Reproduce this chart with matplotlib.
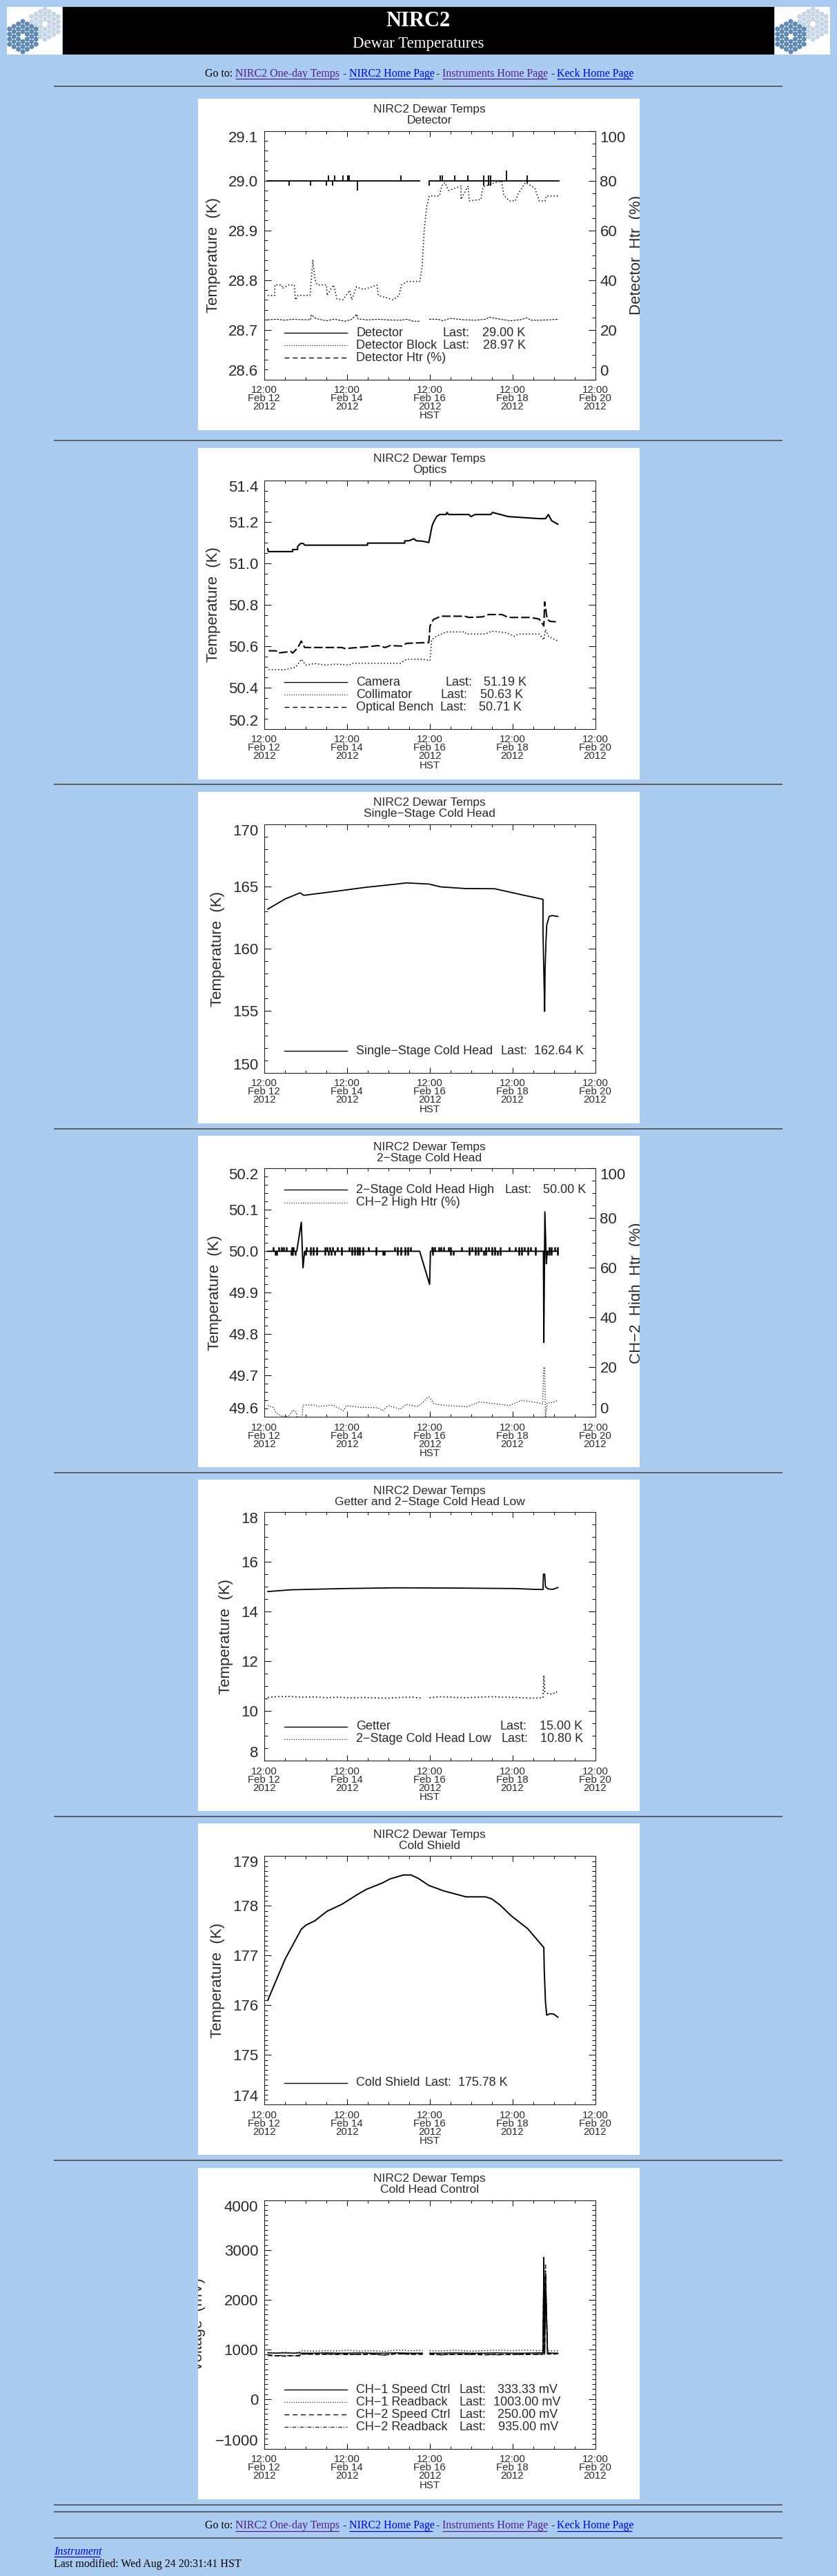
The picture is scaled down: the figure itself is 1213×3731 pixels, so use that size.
import numpy as np
import matplotlib
matplotlib.use('Agg')
import matplotlib.pyplot as plt
from matplotlib.patches import Rectangle, RegularPolygon
from matplotlib.ticker import MultipleLocator

W, H = 1213, 3731
BG = '#aaccf0'
INK = '#2a2a2a'
SANS = 'Liberation Sans'
SERIF = 'Liberation Serif'
DOT = (0, (1, 2))
DASH = (0, (5, 3.5))
DASHDOT = (0, (5, 2, 1, 2))

# time axis is days since 12:00 Feb 12 2012 (HST)
date_ticks = [0, 2, 4, 6, 8]
date_labels = ['12:00\nFeb 12\n2012', '12:00\nFeb 14\n2012', '12:00\nFeb 16\n2012',
               '12:00\nFeb 18\n2012', '12:00\nFeb 20\n2012']

# Detector
det_segments_t = [[0.08, 3.76], [3.99, 7.12]]
det_base = 29.0
det_up_t = [1.55, 1.71, 1.91, 2.02, 2.05, 3.31, 4.25, 4.30, 4.61, 4.93, 5.31, 5.43, 5.47, 5.86, 6.36]
det_up_v = [29.01, 29.01, 29.01, 29.01, 29.01, 29.01, 29.01, 29.01, 29.01, 29.01, 29.01, 29.01, 29.01, 29.02, 29.01]
det_down_t = [0.61, 1.13, 1.50, 1.65, 2.25, 3.99, 5.31, 5.43, 5.47, 6.36]
det_down_v = [28.99, 28.99, 28.99, 28.99, 28.98, 28.99, 28.99, 28.99, 28.99, 28.995]
block_t = [0.09, 0.26, 0.26, 0.43, 0.44, 0.60, 0.73, 0.76, 0.82, 1.11, 1.18, 1.23, 1.29, 1.51, 1.52, 1.68, 1.76,
           1.90, 2.07, 2.12, 2.23, 2.40, 2.60, 2.73, 2.76, 3.12, 3.26, 3.32, 3.46, 3.76, 3.82, 3.87, 3.93, 3.99,
           4.24, 4.29, 4.37, 4.46, 4.76, 4.76, 4.93, 4.96, 5.24, 5.29, 5.51, 5.74, 5.79, 5.93, 6.07, 6.15, 6.32,
           6.54, 6.65, 6.79, 6.82, 7.12]
block_v = [28.769, 28.769, 28.79, 28.79, 28.783, 28.79, 28.79, 28.76, 28.769, 28.769, 28.841, 28.80, 28.79, 28.79,
           28.769, 28.79, 28.762, 28.76, 28.779, 28.76, 28.786, 28.781, 28.786, 28.79, 28.769, 28.76, 28.769, 28.79,
           28.797, 28.797, 28.827, 28.901, 28.948, 28.969, 28.969, 28.989, 28.996, 28.98, 28.989, 28.962, 28.989,
           28.959, 28.962, 28.987, 28.994, 28.999, 28.971, 28.959, 28.959, 28.975, 28.996, 28.985, 28.959, 28.959,
           28.969, 28.969]
det_htr_t = [0.09, 0.3, 0.5, 0.7, 0.9, 1.12, 1.14, 1.25, 1.5, 1.7, 1.95, 2.1, 2.24, 2.26, 2.5, 2.75, 3.0, 3.3, 3.45,
             3.6, 3.76, 3.87, 3.99, 4.2, 4.32, 4.5, 4.8, 5.1, 5.35, 5.45, 5.7, 5.95, 6.2, 6.35, 6.45, 6.7, 7.12]
det_htr_v = [24.0, 24.2, 23.8, 24.2, 24.0, 24.0, 26.0, 24.5, 23.6, 24.2, 23.4, 24.0, 26.2, 24.4, 23.9, 24.2, 23.9,
             23.8, 24.2, 23.4, 23.4, np.nan, 24.2, 24.2, 23.6, 24.6, 24.0, 23.8, 24.2, 25.0, 24.2, 23.6, 24.0, 24.8,
             23.8, 23.8, 24.2]

# Optics
camera_t = [0.09, 0.10, 0.69, 0.69, 0.81, 0.81, 0.88, 0.95, 0.98, 2.50, 2.50, 3.40, 3.40, 3.50, 3.62, 3.68, 3.80,
            3.98, 4.02, 4.06, 4.10, 4.17, 4.24, 4.40, 4.42, 4.46, 4.95, 5.00, 5.10, 5.48, 5.52, 5.90, 6.65, 6.80,
            6.87, 6.95, 7.10]
camera_v = [51.07, 51.056, 51.056, 51.066, 51.066, 51.08, 51.095, 51.095, 51.087, 51.087, 51.097, 51.097, 51.108,
            51.108, 51.118, 51.108, 51.107, 51.10, 51.14, 51.18, 51.20, 51.225, 51.235, 51.235, 51.245, 51.235,
            51.235, 51.225, 51.235, 51.235, 51.245, 51.225, 51.215, 51.215, 51.235, 51.205, 51.188]
collimator_t = [0.11, 0.51, 0.61, 0.76, 0.90, 1.01, 1.23, 1.48, 1.74, 2.06, 2.13, 3.29, 3.44, 3.83, 4.01, 4.05, 4.16,
                4.41, 4.85, 4.88, 5.35, 5.50, 5.86, 6.04, 6.15, 6.65, 6.76, 6.80, 6.87, 7.10]
collimator_v = [50.486, 50.486, 50.491, 50.497, 50.536, 50.508, 50.516, 50.508, 50.513, 50.508, 50.517, 50.517,
                50.536, 50.536, 50.53, 50.63, 50.647, 50.668, 50.668, 50.658, 50.658, 50.672, 50.664, 50.647, 50.658,
                50.658, 50.63, 50.68, 50.647, 50.624]
bench_t = [0.11, 0.29, 0.33, 0.65, 0.69, 0.81, 0.90, 0.98, 1.88, 1.95, 2.53, 2.75, 2.93, 3.04, 3.33, 3.44, 3.98,
           4.01, 4.09, 4.27, 4.85, 4.95, 5.28, 5.42, 5.75, 5.90, 6.44, 6.65, 6.76, 6.78, 6.84, 6.91, 7.05]
bench_v = [50.577, 50.577, 50.566, 50.574, 50.566, 50.591, 50.624, 50.593, 50.593, 50.588, 50.597, 50.602, 50.593,
           50.602, 50.60, 50.613, 50.617, 50.697, 50.728, 50.744, 50.744, 50.738, 50.741, 50.752, 50.752, 50.738,
           50.738, 50.73, 50.697, 50.813, 50.73, 50.719, 50.717]

# Single-stage cold head
single_t = [0.09, 0.51, 0.87, 0.96, 1.74, 2.47, 3.18, 3.44, 3.98, 4.27, 4.85, 5.57, 5.79, 6.22, 6.74, 6.74, 6.76,
            6.78, 6.79, 6.81, 6.83, 6.89, 6.96, 7.10]
single_v = [163.18, 164.0, 164.49, 164.29, 164.62, 164.94, 165.19, 165.29, 165.2, 164.97, 164.84, 164.82, 164.66,
            164.34, 163.97, 161.3, 158.2, 154.95, 158.2, 160.4, 161.9, 162.6, 162.66, 162.59]

# 2-stage cold head high
high_t = [0.09, 0.79, 0.90, 0.94, 0.98, 3.76, 4.0, 4.02, 6.75, 6.76, 6.785, 6.82, 6.84, 7.10]
high_v = [50.0, 50.0, 50.07, 49.96, 50.0, 50.0, 49.92, 50.0, 50.0, 49.78, 50.095, 49.97, 50.0, 50.0]
high_up_t = [0.22, 0.36, 0.42, 0.48, 0.54, 0.67, 0.71, 1.03, 1.12, 1.19, 1.28, 1.48, 1.53, 1.59, 1.66, 1.77, 1.88,
             2.06, 2.12, 2.19, 2.26, 2.31, 2.39, 2.53, 2.71, 3.15, 3.22, 3.31, 3.40, 3.47, 3.54, 4.05, 4.07, 4.12,
             4.23, 4.28, 4.34, 4.45, 4.51, 4.77, 4.95, 5.03, 5.10, 5.17, 5.24, 5.35, 5.42, 5.50, 5.57, 5.71, 5.92,
             6.08, 6.15, 6.22, 6.29, 6.37, 6.44, 6.55, 6.89, 6.94, 7.02, 7.09]
high_down_t = [0.28, 0.30, 0.65, 0.69, 0.76, 1.00, 1.12, 1.19, 1.28, 1.48, 1.55, 1.63, 1.70, 1.88, 2.12, 2.19, 2.26,
               2.31, 2.39, 2.71, 2.87, 2.90, 3.22, 3.31, 3.40, 3.47, 4.07, 4.51, 4.57, 4.95, 5.10, 5.17, 5.30, 5.35,
               5.50, 5.57, 5.64, 5.71, 6.15, 6.22, 6.37, 6.55, 6.84, 6.89, 6.94, 7.09]
high_htr_t = [0.09, 0.22, 0.29, 0.47, 0.61, 0.69, 0.78, 0.80, 0.92, 0.94, 1.23, 1.30, 1.66, 1.92, 1.99, 2.31, 2.75,
              2.86, 3.00, 3.29, 3.43, 3.72, 3.98, 4.11, 4.41, 4.92, 5.20, 5.38, 5.93, 6.22, 6.44, 6.73, 6.76, 6.78,
              6.80, 6.84, 6.94, 7.10]
high_htr_v = [4.6, 3.9, 1.6, 0.0, 0.5, 2.8, 2.0, 0.0, 0.0, 4.8, 4.8, 4.2, 4.8, 2.5, 4.6, 3.9, 3.7, 2.5, 4.6, 3.1,
              5.1, 4.2, 8.1, 5.3, 4.6, 4.2, 6.0, 5.7, 4.6, 6.7, 6.2, 5.3, 20.0, 20.0, 0.0, 5.7, 5.7, 6.7]

# Getter and 2-stage low
getter_t = [0.09, 0.65, 1.92, 3.18, 4.63, 6.08, 6.51, 6.74, 6.75, 6.78, 6.80, 6.87, 6.98, 7.10]
getter_v = [14.81, 14.88, 14.93, 14.96, 14.95, 14.93, 14.90, 14.89, 15.51, 15.51, 15.0, 14.91, 14.90, 14.97]
low_t = [0.09, 0.3, 0.6, 0.9, 1.2, 1.5, 1.8, 2.1, 2.4, 2.7, 3.0, 3.3, 3.6, 3.83, 3.9, 4.0, 4.3, 4.6, 4.9, 5.2, 5.5,
         5.8, 6.1, 6.4, 6.74, 6.76, 6.78, 6.87, 6.98, 7.05, 7.10]
low_v = [10.55, 10.58, 10.59, 10.56, 10.57, 10.54, 10.56, 10.53, 10.55, 10.53, 10.52, 10.55, 10.56, 10.51, np.nan,
         10.54, 10.58, 10.55, 10.54, 10.56, 10.58, 10.56, 10.55, 10.52, 10.53, 11.44, 10.79, 10.69, 10.68, 10.79, 10.72]

# Cold shield
shield_t = [0.09, 0.51, 0.90, 1.01, 1.23, 1.52, 1.88, 2.24, 2.47, 2.86, 3.04, 3.37, 3.55, 3.73, 3.98, 4.34, 4.88,
            5.35, 5.50, 5.71, 5.97, 6.37, 6.76, 6.77, 6.80, 6.83, 6.91, 7.00, 7.10]
shield_v = [176.10, 176.93, 177.53, 177.61, 177.70, 177.89, 178.03, 178.22, 178.33, 178.46, 178.54, 178.62, 178.62,
            178.55, 178.41, 178.30, 178.18, 178.18, 178.14, 178.01, 177.80, 177.54, 177.16, 176.71, 176.06, 175.80,
            175.83, 175.82, 175.76]

# Cold head control
ctrl_t = [0.09, 0.3, 0.5, 0.7, 0.87, 0.90, 1.2, 1.5, 1.8, 2.0, 2.3, 2.6, 2.9, 3.2, 3.5, 3.83, 3.9, 4.0, 4.3, 4.6,
          5.0, 5.3, 5.6, 6.0, 6.3, 6.6, 6.74, 6.76, 6.78, 6.80, 6.85, 7.0, 7.1]
ch1_speed = [930, 925, 930, 925, 930, 925, 925, 930, 925, 925, 930, 925, 925, 930, 925, 925, np.nan, 925, 925, 930,
             925, 925, 930, 925, 925, 930, 930, 2850, 950, 2400, 930, 925, 925]
ch1_read = [940, 930, 945, 925, 950, 975, 965, 975, 970, 985, 965, 975, 960, 985, 975, 980, np.nan, 975, 970, 985,
            965, 975, 985, 975, 985, 975, 980, 2800, 1000, 2600, 975, 970, 975]
ch2_speed = [880, 870, 865, 875, 870, 905, 905, 900, 910, 895, 900, 905, 890, 910, 905, 900, np.nan, 905, 895, 900,
             905, 890, 900, 895, 905, 900, 905, 2850, 920, 2500, 910, 905, 915]
ch2_read = [890, 875, 880, 870, 885, 915, 900, 910, 895, 905, 895, 910, 885, 920, 900, 915, np.nan, 900, 890, 905,
            895, 905, 890, 900, 895, 905, 900, 2820, 900, 2700, 905, 910, 915]

fig = plt.figure(figsize=(W / 100, H / 100), dpi=100, facecolor=BG)
page = fig.add_axes([0, 0, 1, 1], zorder=0)
page.set_xlim(0, W)
page.set_ylim(H, 0)
page.axis('off')


def hex_logo(x0):
    page.add_patch(Rectangle((x0, 10), 80, 69, fc='white', ec='none'))
    columns = [4, 5, 6, 7, 6, 5, 4]
    for (cx, cy, colour) in [(x0 + 55, 35, '#c6d6e6'), (x0 + 23, 53, '#5f8ab4')]:
        for i, n in enumerate(columns):
            for j in range(n):
                if i == 3 and j == 3:
                    continue
                px = cx + (i - 3) * 6.4
                py = cy + (j - (n - 1) / 2) * 7.3
                if py < 78:
                    page.add_patch(RegularPolygon((px, py), 6, radius=3.9, fc=colour, ec='none'))


def link_bar(y):
    page.text(297, y, 'Go to:', family=SERIF, fontsize=11.5, va='center', color='black')
    parts = [('NIRC2 One-day Temps', 341, 491, '#551a8b'), ('NIRC2 Home Page', 506, 627, '#0000ee'),
             ('Instruments Home Page', 641, 793, '#551a8b'), ('Keck Home Page', 807, 916, '#0000ee')]
    for (txt, x0, x1, colour) in parts:
        page.text(x0, y, txt, family=SERIF, fontsize=11.5, va='center', color=colour)
        page.plot([x0, x1], [y + 7, y + 7], color=colour, lw=0.9, solid_capstyle='butt')
    for x in [496, 631, 798]:
        page.text(x, y, '-', family=SERIF, fontsize=11.5, va='center', color='black')


def hr(y):
    page.plot([78, 1134], [y, y], color='#555555', lw=1.3, solid_capstyle='butt')


page.add_patch(Rectangle((91, 10), 1031, 69, fc='black', ec='none'))
hex_logo(10)
hex_logo(1123)
page.text(606, 31, 'NIRC2', family=SERIF, weight='bold', fontsize=22, color='white', ha='center', va='center')
page.text(606, 63, 'Dewar Temperatures', family=SERIF, fontsize=16.5, color='white', ha='center', va='center')
link_bar(107)
link_bar(3658.5)
for y in [124.5, 638, 1136, 1635, 2133, 2631, 3129, 3628, 3638, 3675.5]:
    hr(y)
page.text(78, 3696, 'Instrument', family=SERIF, style='italic', fontsize=11.5, color='#0000ee', va='center')
page.plot([78, 145], [3703, 3703], color='#0000ee', lw=0.9, solid_capstyle='butt')
page.text(78, 3714, 'Last modified: Wed Aug 24 20:31:41 HST', family=SERIF, fontsize=11.5, color='black', va='center')


def fix_end_labels(labels):
    # the end labels stay inside the frame height, like the original plots
    labels[0].set_va('bottom')
    labels[-1].set_va('top')


def panel(top, ylim, major, minor, subtitle, ylabel_x, ylabel='Temperature  (K)', right=None):
    # top is the pixel row of the plot frame, the white card sits 47 px above it
    card = Rectangle((286.5, top - 47), 640, 480, fc='white', ec='none')
    page.add_patch(card)
    x0, x1, h = 382.7, 862.5, 360
    ax = fig.add_axes([x0 / W, 1 - (top + h) / H, (x1 - x0) / W, h / H], zorder=2)
    ax.patch.set_alpha(0)
    ax.set_xlim(0, 8)
    ax.set_ylim(*ylim)
    for s in ax.spines.values():
        s.set_linewidth(0.8)
        s.set_color('#222222')
    ax.set_xticks(date_ticks)
    ax.set_xticklabels(date_labels, family=SANS, fontsize=10.8, color=INK, linespacing=0.82)
    ax.xaxis.set_minor_locator(MultipleLocator(0.5))
    ax.tick_params(axis='x', which='major', direction='in', length=5.5, width=0.7, top=True, pad=6)
    ax.tick_params(axis='x', which='minor', direction='in', length=3, width=0.7, top=True)
    ax.yaxis.set_major_locator(MultipleLocator(major))
    ax.yaxis.set_minor_locator(MultipleLocator(minor))
    ax.tick_params(axis='y', which='major', direction='in', length=7.5, width=0.7, right=right is None, pad=6,
                   labelsize=16, labelcolor=INK)
    ax.tick_params(axis='y', which='minor', direction='in', length=3.8, width=0.7, right=right is None)
    ticks = [t for t in ax.get_yticks() if ylim[0] - 1e-6 <= t <= ylim[1] + 1e-6]
    ax.set_yticks(ticks)
    decimals = 1 if major < 1 else 0
    ax.set_yticklabels([f'{t:.{decimals}f}'.replace('-', '\u2212') for t in ticks], family=SANS)
    fix_end_labels(ax.get_yticklabels())

    mid = top + h / 2
    cx = 622.5
    page.text(cx, top - 31, 'NIRC2 Dewar Temps', family=SANS, fontsize=12.5, color=INK, ha='center', va='center')
    page.text(cx, top - 15, subtitle, family=SANS, fontsize=12.5, color=INK, ha='center', va='center')
    page.text(cx, top + h + 53, 'HST', family=SANS, fontsize=10.8, color=INK, ha='center', va='center')
    lab = page.text(ylabel_x, mid, ylabel, family=SANS, fontsize=16, color=INK, rotation=90, ha='center', va='center')
    lab.set_clip_path(card)
    lab.set_clip_on(True)

    ax2 = None
    if right is not None:
        ax2 = ax.twinx()
        ax2.patch.set_alpha(0)
        ax2.set_ylim(0, 100)
        for s in ax2.spines.values():
            s.set_visible(False)
        ax2.yaxis.set_minor_locator(MultipleLocator(5))
        rticks = [0, 20, 40, 60, 80, 100]
        ax2.set_yticks(rticks)
        ax2.set_yticklabels([str(t) for t in rticks], family=SANS)
        ax2.tick_params(axis='y', which='major', direction='in', length=7.5, width=0.7, pad=5,
                        labelsize=16, labelcolor=INK)
        ax2.tick_params(axis='y', which='minor', direction='in', length=3.8, width=0.7)
        fix_end_labels(ax2.get_yticklabels())
        rlab = page.text(922.5, mid, right, family=SANS, fontsize=16, color=INK, rotation=90, ha='center', va='center')
        rlab.set_clip_path(card)
        rlab.set_clip_on(True)
    return ax, ax2


def legend_row(ax, y, name, last=None, last_x=None, value=None, value_x=None, ls='-', lw=1.0):
    ax.plot([0.0615, 0.2514], [y, y], transform=ax.transAxes, color='black', ls=ls, lw=lw)
    ax.text(0.2785, y, name, transform=ax.transAxes, family=SANS, fontsize=13, color=INK, va='center')
    if last:
        ax.text(last_x, y, last, transform=ax.transAxes, family=SANS, fontsize=13, color=INK, va='center')
        ax.text(value_x, y, value, transform=ax.transAxes, family=SANS, fontsize=13, color=INK, va='center')


# Detector
ax, ax2 = panel(189.5, (28.6, 29.1), 0.1, 0.02, 'Detector', 310, right='Detector  Htr  (%)')
for seg in det_segments_t:
    ax.plot(seg, [det_base, det_base], color='black', lw=1.3)
ax.vlines(det_up_t, det_base, det_up_v, color='black', lw=1.3)
ax.vlines(det_down_t, det_down_v, det_base, color='black', lw=1.3)
ax.plot(block_t, block_v, color='black', ls=DOT, lw=1.1)
ax2.plot(det_htr_t, det_htr_v, color='black', ls=(0, (2.5, 1.5)), lw=0.8)
legend_row(ax, 0.187, 'Detector', 'Last:', 0.54, '29.00 K', 0.66)
legend_row(ax, 0.137, 'Detector Block', 'Last:', 0.54, '28.97 K', 0.662, ls=DOT, lw=0.8)
legend_row(ax, 0.087, 'Detector Htr (%)', ls=DASH)

# Optics
ax, _ = panel(695.7, (50.2, 51.4), 0.2, 0.05, 'Optics', 310)
ax.plot(camera_t, camera_v, color='black', lw=1.5)
ax.plot(collimator_t, collimator_v, color='black', ls=DOT, lw=1.1)
ax.plot(bench_t, bench_v, color='black', ls=(0, (6, 2)), lw=1.5)
legend_row(ax, 0.187, 'Camera', 'Last:', 0.547, '51.19 K', 0.663)
legend_row(ax, 0.138, 'Collimator', 'Last:', 0.534, '50.63 K', 0.652, ls=DOT, lw=0.8)
legend_row(ax, 0.0875, 'Optical Bench', 'Last:', 0.532, '50.71 K', 0.649, ls=DASH)

# Single-stage cold head
ax, _ = panel(1194, (150, 170), 5, 1, 'Single\u2212Stage Cold Head', 316)
ax.plot(single_t, single_v, color='black', lw=1.3)
legend_row(ax, 0.088, 'Single\u2212Stage Cold Head', 'Last:', 0.714, '162.64 K', 0.8155)

# 2-stage cold head high
ax, ax2 = panel(1692.3, (49.6, 50.2), 0.1, 0.02, '2\u2212Stage Cold Head', 311, right='CH\u22122  High  Htr  (%)')
ax.plot(high_t, high_v, color='black', lw=1.4)
ax.vlines(high_up_t, 50.0, 50.01, color='black', lw=1.8)
ax.vlines(high_down_t, 49.99, 50.0, color='black', lw=1.8)
ax2.plot(high_htr_t, high_htr_v, color='black', ls=DOT, lw=0.9)
legend_row(ax, 0.914, '2\u2212Stage Cold Head High', 'Last:', 0.726, '50.00 K', 0.843)
legend_row(ax, 0.863, 'CH\u22122 High Htr (%)', ls=DOT, lw=0.8)

# Getter and 2-stage low
ax, _ = panel(2190.3, (8, 18), 2, 0.5, 'Getter and 2\u2212Stage Cold Head Low', 328)
ax.plot(getter_t, getter_v, color='black', lw=1.3)
ax.plot(low_t, low_v, color='black', ls=DOT, lw=1.2)
legend_row(ax, 0.138, 'Getter', 'Last:', 0.7125, '15.00 K', 0.832)
legend_row(ax, 0.088, '2\u2212Stage Cold Head Low', 'Last:', 0.716, '10.80 K', 0.835, ls=DOT, lw=0.8)

# Cold shield
ax, _ = panel(2688.3, (174, 179), 1, 0.1, 'Cold Shield', 316)
ax.plot(shield_t, shield_v, color='black', lw=1.4)
legend_row(ax, 0.088, 'Cold Shield', 'Last:', 0.4855, '175.78 K', 0.586)

# Cold head control
ax, _ = panel(3186.8, (-1000, 4000), 1000, 100, 'Cold Head Control', 287, ylabel='Voltage  (mV)')
ax.plot(ctrl_t, ch1_speed, color='black', lw=1.1)
ax.plot(ctrl_t, ch1_read, color='black', ls=DOT, lw=1.0)
ax.plot(ctrl_t, ch2_speed, color='black', ls=(0, (4, 2)), lw=1.2)
ax.plot(ctrl_t, ch2_read, color='black', ls=DASHDOT, lw=1.0)
legend_row(ax, 0.238, 'CH\u22121 Speed Ctrl', 'Last:', 0.59, '333.33 mV', 0.705)
legend_row(ax, 0.188, 'CH\u22121 Readback', 'Last:', 0.59, '1003.00 mV', 0.6926, ls=DOT, lw=0.8)
legend_row(ax, 0.138, 'CH\u22122 Speed Ctrl', 'Last:', 0.59, '250.00 mV', 0.705, ls=DASH)
legend_row(ax, 0.088, 'CH\u22122 Readback', 'Last:', 0.59, '935.00 mV', 0.707, ls=DASHDOT, lw=0.8)

fig.savefig('out.png', dpi=100, facecolor=BG)
